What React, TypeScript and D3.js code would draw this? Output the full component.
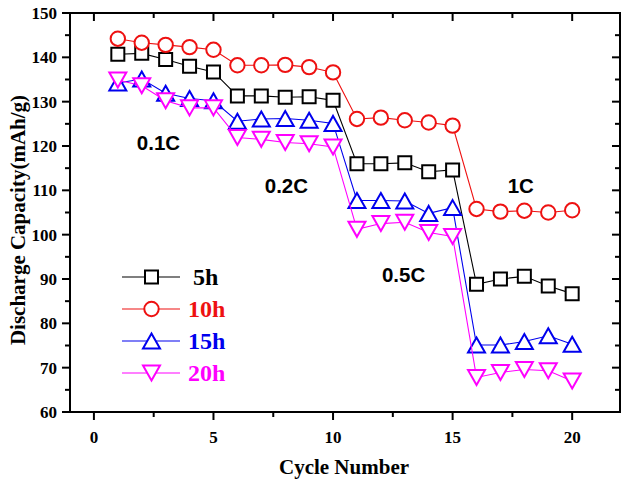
import React from 'react';
import * as d3 from 'd3';

const cycles = [1, 2, 3, 4, 5, 6, 7, 8, 9, 10, 11, 12, 13, 14, 15, 16, 17, 18, 19, 20];
const cap5h = [140.7, 140.9, 139.5, 138.0, 136.7, 131.3, 131.3, 131.0, 131.1, 130.3, 116.0, 116.0, 116.2, 114.2, 114.6, 88.8, 90.0, 90.6, 88.4, 86.7];
const cap10h = [144.2, 143.3, 142.8, 142.3, 141.7, 138.2, 138.2, 138.3, 137.8, 136.6, 126.1, 126.4, 125.8, 125.3, 124.6, 105.8, 105.2, 105.4, 105.0, 105.5];
const cap15h = [134.2, 135.1, 131.9, 130.7, 130.2, 125.6, 126.1, 126.2, 125.8, 125.1, 107.7, 107.7, 107.6, 104.8, 106.1, 75.1, 75.1, 75.9, 77.2, 75.3];
const cap20h = [134.9, 133.6, 130.2, 128.6, 128.6, 121.9, 121.5, 120.8, 120.5, 119.8, 101.2, 102.5, 102.8, 100.5, 99.6, 67.8, 68.9, 69.6, 69.3, 67.0];

const seriesNames = ['5h', '10h', '15h', '20h'];
const seriesColors = ['#000000', '#ee1111', '#0000ee', '#ff00ff'];
const seriesShapes = ['square', 'circle', 'up', 'down'];

const xTicks = [0, 5, 10, 15, 20];
const xMinorTicks = [2.5, 7.5, 12.5, 17.5];
const yTicks = [60, 70, 80, 90, 100, 110, 120, 130, 140, 150];
const yMinorTicks = [65, 75, 85, 95, 105, 115, 125, 135, 145];

const rateLabels = ['0.1C', '0.2C', '0.5C', '1C'];
const rateX = [2.7, 8.05, 12.95, 17.85];
const rateY = [120.7, 111.1, 90.9, 111.1];

const W = 624;
const H = 480;
const M = { left: 70, right: 4, top: 13, bottom: 68 };

const serif = '"Liberation Serif", "Times New Roman", serif';
const sans = '"Liberation Sans", Arial, sans-serif';

function markerPath(shape: string, cx: number, cy: number): string {
  const p = d3.path();
  if (shape === 'square') {
    const s = 6.5;
    p.rect(cx - s, cy - s, 2 * s, 2 * s);
  } else if (shape === 'circle') {
    p.moveTo(cx + 7.2, cy);
    p.arc(cx, cy, 7.2, 0, Math.PI * 2);
    p.closePath();
  } else if (shape === 'up') {
    const w = 8.5, h = 7.5;
    p.moveTo(cx, cy - h);
    p.lineTo(cx + w, cy + h);
    p.lineTo(cx - w, cy + h);
    p.closePath();
  } else {
    const w = 8.5, h = 7.5;
    p.moveTo(cx, cy + h);
    p.lineTo(cx + w, cy - h);
    p.lineTo(cx - w, cy - h);
    p.closePath();
  }
  return p.toString();
}

export default function App() {
  const x = d3.scaleLinear().domain([-1, 22]).range([M.left, W - M.right]);
  const y = d3.scaleLinear().domain([60, 150]).range([H - M.bottom, M.top]);
  const allSeries = [cap5h, cap10h, cap15h, cap20h];
  const line = d3
    .line<number>()
    .x((_, i) => x(cycles[i]))
    .y((d) => y(d));

  const x0 = M.left;
  const x1 = W - M.right;
  const y0 = H - M.bottom;
  const y1 = M.top;

  const legendRows = [277, 309, 341, 373];

  return (
    <svg width={W} height={H} style={{ position: 'absolute', left: 0, top: 0, background: '#fff' }}>
      <rect x={0} y={0} width={W} height={H} fill="#fff" />
      {allSeries.map((vals, si) => (
        <g key={seriesNames[si]}>
          <path d={line(vals) || ''} fill="none" stroke={seriesColors[si]} strokeWidth={1.1} />
          {vals.map((v, i) => (
            <path
              key={i}
              d={markerPath(seriesShapes[si], x(cycles[i]), y(v))}
              fill="#fff"
              stroke={seriesColors[si]}
              strokeWidth={2}
              strokeLinejoin="miter"
            />
          ))}
        </g>
      ))}
      <rect x={x0} y={y1} width={x1 - x0} height={y0 - y1} fill="none" stroke="#000" strokeWidth={2} />
      {xTicks.map((t) => (
        <g key={'xt' + t}>
          <line x1={x(t)} x2={x(t)} y1={y0} y2={y0 + 8} stroke="#000" strokeWidth={2} />
          <line x1={x(t)} x2={x(t)} y1={y1} y2={y1 + 8} stroke="#000" strokeWidth={2} />
          <text
            x={x(t)}
            y={y0 + 31}
            textAnchor="middle"
            fontFamily={serif}
            fontWeight="bold"
            fontSize={17}
            fill="#000"
          >
            {t}
          </text>
        </g>
      ))}
      {xMinorTicks.map((t) => (
        <g key={'xm' + t}>
          <line x1={x(t)} x2={x(t)} y1={y0} y2={y0 + 5} stroke="#000" strokeWidth={2} />
          <line x1={x(t)} x2={x(t)} y1={y1} y2={y1 + 5} stroke="#000" strokeWidth={2} />
        </g>
      ))}
      {yTicks.map((t) => (
        <g key={'yt' + t}>
          <line x1={x0 - 8} x2={x0} y1={y(t)} y2={y(t)} stroke="#000" strokeWidth={2} />
          <line x1={x1 - 8} x2={x1} y1={y(t)} y2={y(t)} stroke="#000" strokeWidth={2} />
          <text
            x={x0 - 13}
            y={y(t) + 6}
            textAnchor="end"
            fontFamily={serif}
            fontWeight="bold"
            fontSize={17}
            fill="#000"
          >
            {t}
          </text>
        </g>
      ))}
      {yMinorTicks.map((t) => (
        <g key={'ym' + t}>
          <line x1={x0 - 5} x2={x0} y1={y(t)} y2={y(t)} stroke="#000" strokeWidth={2} />
          <line x1={x1 - 5} x2={x1} y1={y(t)} y2={y(t)} stroke="#000" strokeWidth={2} />
        </g>
      ))}
      <text
        x={344}
        y={474}
        textAnchor="middle"
        fontFamily={serif}
        fontWeight="bold"
        fontSize={21}
        fill="#000"
      >
        Cycle Number
      </text>
      <text
        transform={`translate(25, 220) rotate(-90)`}
        textAnchor="middle"
        fontFamily={serif}
        fontWeight="bold"
        fontSize={21}
        fill="#000"
      >
        Discharge Capacity(mAh/g)
      </text>
      {rateLabels.map((lab, i) => (
        <text
          key={lab}
          x={x(rateX[i])}
          y={y(rateY[i])}
          dy="0.36em"
          textAnchor="middle"
          fontFamily={sans}
          fontWeight="bold"
          fontSize={20.5}
          fill="#000"
        >
          {lab}
        </text>
      ))}
      {seriesNames.map((name, si) => (
        <g key={'lg' + name}>
          <line x1={122} x2={180} y1={legendRows[si]} y2={legendRows[si]} stroke={seriesColors[si]} strokeWidth={1.1} />
          <path d={markerPath(seriesShapes[si], 151.5, legendRows[si])} fill="#fff" stroke={seriesColors[si]} strokeWidth={2} />
          <text
            x={si === 0 ? 193 : 188}
            y={legendRows[si]}
            dy="0.35em"
            fontFamily={serif}
            fontWeight="bold"
            fontSize={24}
            fill={seriesColors[si]}
          >
            {name}
          </text>
        </g>
      ))}
    </svg>
  );
}
